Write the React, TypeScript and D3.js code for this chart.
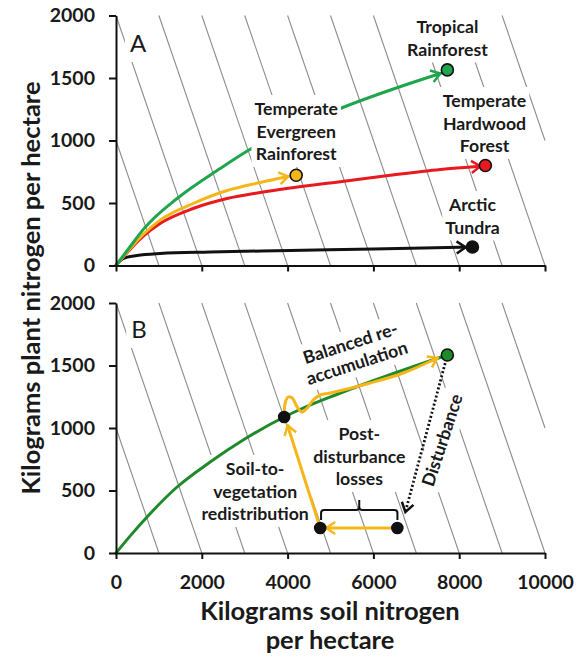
import React, { useEffect, useRef } from 'react';
import * as d3 from 'd3';

const W = 582;
const H = 662;
const FONT = 'Lato, "Open Sans", sans-serif';

// total nitrogen isolines (soil + plant), kg per hectare
const isoTotals = [1000, 2000, 3000, 4000, 5000, 6000, 7000, 8000, 9000, 10000, 11000];

const xTicks = [0, 2000, 4000, 6000, 8000, 10000];
const yTicks = [0, 500, 1000, 1500, 2000];

// panel A: soil N (x) vs plant N (y) trajectories
const tropicalSoil = [0, 327, 637, 1424, 2427, 3080, 5227, 6791, 7561];
const tropicalPlant = [0, 150, 289, 536, 776, 920, 1256, 1450, 1536];
const evergreenSoil = [0, 637, 1027, 1797, 2590, 3360, 4014];
const evergreenPlant = [0, 250, 363, 496, 600, 664, 712];
const hardwoodSoil = [0, 637, 1027, 1797, 2590, 3360, 4060, 5227, 6394, 7561, 8494];
const hardwoodPlant = [0, 236, 336, 456, 536, 584, 620, 670, 722, 768, 794];
const tundraSoil = [0, 163, 490, 1027, 2194, 4060, 6000, 8150];
const tundraPlant = [0, 56, 80, 96, 108, 120, 132, 146];

const siteNames = ['Tropical Rainforest', 'Temperate Evergreen Rainforest', 'Temperate Hardwood Forest', 'Arctic Tundra'];
const siteSoil = [7724, 4200, 8610, 8308];
const sitePlant = [1565, 722, 800, 148];

// panel B: disturbance and recovery
const recoverySoil = [0, 327, 723, 1424, 2194, 2964, 3920, 4364, 5157, 7724];
const recoveryPlant = [0, 135, 288, 528, 728, 904, 1088, 1160, 1270, 1584];
const matureSoil = 7724, maturePlant = 1584;
const disturbedSoil = 6558, disturbedPlant = 200;
const lossSoil = 4760, lossPlant = 200;
const redistSoil = 3920, redistPlant = 1088;
const reaccumSoil = [3921, 3944, 4014, 4108, 4224, 4341, 4458, 4598, 4761, 4995, 5928, 6698, 7492];
const reaccumPlant = [1088, 1200, 1248, 1240, 1168, 1128, 1160, 1224, 1264, 1280, 1360, 1440, 1560];
const disturbTipSoil = 6745, disturbTipPlant = 328;
const lossTipSoil = 4900;
const redistTipSoil = 4000, redistTipPlant = 1020;
const bracketSoil = [4780, 5670, 6560];
const bracketPlant = [264, 344, 424];

const C = {
  green: '#1fa54d',
  dkgreen: '#1e8a2a',
  yellow: '#f6b619',
  red: '#e8191f',
  black: '#111111',
  grid: '#8c8c8c',
  text: '#1a1a1a',
};

const zip = (a: number[], b: number[]) => a.map((v, i) => [v, b[i]] as [number, number]);

const App = () => {
  const ref = useRef<SVGSVGElement>(null);

  useEffect(() => {
    document.body.style.margin = '0';
    const svg = d3.select(ref.current);
    svg.selectAll('*').remove();

    const x = d3.scaleLinear().domain([0, 10000]).range([116, 545]);
    const yA = d3.scaleLinear().domain([0, 2000]).range([265.5, 15.5]);
    const yB = d3.scaleLinear().domain([0, 2000]).range([553, 303]);

    const defs = svg.append('defs');
    Object.entries(C).forEach(([k, c]) => {
      defs.append('marker')
        .attr('id', 'arr-' + k)
        .attr('viewBox', '-12 -8 16 16')
        .attr('refX', 0).attr('refY', 0)
        .attr('markerWidth', 16).attr('markerHeight', 16)
        .attr('markerUnits', 'userSpaceOnUse')
        .attr('orient', 'auto')
        .append('path')
        .attr('d', 'M-9,-6L0,0L-9,6')
        .attr('fill', 'none')
        .attr('stroke', c)
        .attr('stroke-width', 2.5);
    });

    const gridLayer = svg.append('g');
    const labelLayer = svg.append('g');
    const curveLayer = svg.append('g');
    const topLayer = svg.append('g');

    const drawFrame = (y: d3.ScaleLinear<number, number>, withLabels: boolean) => {
      const g = gridLayer.append('g');
      isoTotals.forEach(c => {
        const p0 = c <= 2000 ? [0, c] : [c - 2000, 2000];
        const p1 = c <= 10000 ? [c, 0] : [10000, c - 10000];
        g.append('line')
          .attr('x1', x(p0[0])).attr('y1', y(p0[1]))
          .attr('x2', x(p1[0])).attr('y2', y(p1[1]))
          .attr('stroke', C.grid).attr('stroke-width', 1.1);
      });
      const ay = topLayer.append('g')
        .attr('transform', `translate(${x(0)},0)`)
        .call(d3.axisLeft(y).tickValues(yTicks).tickSize(7).tickSizeOuter(0).tickPadding(14)
          .tickFormat(d3.format('d')));
      const ax = topLayer.append('g')
        .attr('transform', `translate(0,${y(0)})`)
        .call(d3.axisBottom(x).tickValues(xTicks).tickSize(6).tickSizeOuter(0).tickPadding(16)
          .tickFormat(withLabels ? d3.format('d') : () => ''));
      [ay, ax].forEach(a => {
        a.attr('font-family', FONT).attr('font-size', 19.5).attr('font-weight', 700);
        a.select('.domain').attr('stroke', C.black).attr('stroke-width', 2);
        a.selectAll('.tick line').attr('stroke', C.black).attr('stroke-width', 2);
        a.selectAll('.tick text').attr('fill', C.text);
      });
    };

    const label = (layer: any, lines: string[], px: number, py: number,
      opt: { size?: number; weight?: number; rot?: number; lh?: number; pad?: number } = {}) => {
      const { size = 17.7, weight = 700, rot = 0, lh = 22.5, pad = 3 } = opt;
      const g = layer.append('g').attr('transform', `translate(${px},${py}) rotate(${rot})`);
      const t = g.append('g');
      lines.forEach((s, i) => {
        t.append('text')
          .attr('x', 0).attr('y', i * lh)
          .attr('text-anchor', 'middle')
          .attr('font-family', FONT)
          .attr('font-size', size)
          .attr('font-weight', weight)
          .attr('fill', C.text)
          .text(s);
      });
      const bb = (t.node() as SVGGElement).getBBox();
      g.insert('rect', ':first-child')
        .attr('x', bb.x - pad).attr('y', bb.y - pad)
        .attr('width', bb.width + 2 * pad).attr('height', bb.height + 2 * pad)
        .attr('fill', '#fff');
    };

    const path = (y: d3.ScaleLinear<number, number>, pts: [number, number][], color: string,
      key: string | null, curve: d3.CurveFactory, extra?: (p: any) => void) => {
      const gen = d3.line<[number, number]>().x(d => x(d[0])).y(d => y(d[1])).curve(curve);
      const p = curveLayer.append('path')
        .attr('d', gen(pts))
        .attr('fill', 'none')
        .attr('stroke', color)
        .attr('stroke-width', 3)
        .attr('stroke-linecap', 'round');
      if (key) p.attr('marker-end', `url(#arr-${key})`);
      if (extra) extra(p);
    };

    const dot = (cx: number, cy: number, fill: string, r = 6) => {
      topLayer.append('circle').attr('cx', cx).attr('cy', cy).attr('r', r)
        .attr('fill', fill).attr('stroke', C.black).attr('stroke-width', 1.6);
    };

    const mono = d3.curveMonotoneX;

    // ---------- panel A ----------
    drawFrame(yA, false);
    path(yA, zip(tundraSoil, tundraPlant), C.black, 'black', mono);
    path(yA, zip(hardwoodSoil, hardwoodPlant), C.red, 'red', mono);
    path(yA, zip(evergreenSoil, evergreenPlant), C.yellow, 'yellow', mono);
    path(yA, zip(tropicalSoil, tropicalPlant), C.green, 'green', mono);

    label(labelLayer, ['A'], x(513), yA(1708), { size: 24, weight: 400, pad: 5 });
    label(labelLayer, ['Tropical', 'Rainforest'], x(7725), yA(1860));
    // this label sits over the tropical trajectory, hiding part of it
    label(topLayer, ['Temperate', 'Evergreen', 'Rainforest'], x(4201), yA(1204));
    label(labelLayer, ['Temperate', 'Hardwood', 'Forest'], x(8590), yA(1268));
    label(labelLayer, ['Arctic', 'Tundra'], x(8309), yA(436));

    const siteFill = [C.green, C.yellow, C.red, C.black];
    siteNames.forEach((_, i) => dot(x(siteSoil[i]), yA(sitePlant[i]), siteFill[i]));

    // ---------- panel B ----------
    drawFrame(yB, true);
    path(yB, zip(recoverySoil, recoveryPlant), C.dkgreen, null, mono);
    path(yB, zip(reaccumSoil, reaccumPlant), C.yellow, 'yellow', d3.curveCatmullRom.alpha(0.5));
    path(yB, [[disturbedSoil, disturbedPlant], [lossTipSoil, lossPlant]], C.yellow, 'yellow', d3.curveLinear);
    path(yB, [[lossSoil, lossPlant], [redistTipSoil, redistTipPlant]], C.yellow, 'yellow', d3.curveLinear);
    path(yB, [[matureSoil, maturePlant], [disturbTipSoil, disturbTipPlant]], C.black, 'black', d3.curveLinear,
      p => p.attr('stroke-dasharray', '2 2.2').attr('stroke-linecap', 'butt').attr('stroke-width', 2.8));

    // brace over post-disturbance losses
    const bx0 = x(bracketSoil[0]), bxm = x(bracketSoil[1]), bx1 = x(bracketSoil[2]);
    const by0 = yB(bracketPlant[0]), bym = yB(bracketPlant[1]), byt = yB(bracketPlant[2]);
    const r = 3;
    const bp = d3.path();
    bp.moveTo(bx0, by0);
    bp.lineTo(bx0, bym + r);
    bp.quadraticCurveTo(bx0, bym, bx0 + r, bym);
    bp.lineTo(bxm - r, bym);
    bp.quadraticCurveTo(bxm, bym, bxm, bym - r);
    bp.lineTo(bxm, byt);
    bp.moveTo(bxm, bym - r);
    bp.quadraticCurveTo(bxm, bym, bxm + r, bym);
    bp.lineTo(bx1 - r, bym);
    bp.quadraticCurveTo(bx1, bym, bx1, bym + r);
    bp.lineTo(bx1, by0);
    curveLayer.append('path').attr('d', bp.toString()).attr('fill', 'none')
      .attr('stroke', C.black).attr('stroke-width', 2);

    label(labelLayer, ['B'], x(537), yB(1720), { size: 24, weight: 400, pad: 5 });
    label(labelLayer, ['Balanced re-', 'accumulation'], x(5508), yB(1632), { rot: -18, lh: 21 });
    label(labelLayer, ['Disturbance'], x(7742), yB(888), { rot: -72 });
    label(labelLayer, ['Post-', 'disturbance', 'losses'], x(5672), yB(904));
    label(labelLayer, ['Soil-to-', 'vegetation', 'redistribution'], x(3244), yB(624));

    dot(x(matureSoil), yB(maturePlant), C.dkgreen);
    dot(x(redistSoil), yB(redistPlant), C.black, 5.5);
    dot(x(lossSoil), yB(lossPlant), C.black, 5.5);
    dot(x(disturbedSoil), yB(disturbedPlant), C.black, 5.5);

    // axis titles
    topLayer.append('text')
      .attr('transform', `translate(40,288) rotate(-90)`)
      .attr('text-anchor', 'middle')
      .attr('font-family', FONT).attr('font-size', 25.5).attr('font-weight', 700)
      .attr('fill', C.text)
      .text('Kilograms plant nitrogen per hectare');
    ['Kilograms soil nitrogen', 'per hectare'].forEach((s, i) => {
      topLayer.append('text')
        .attr('x', 330).attr('y', 620 + i * 29)
        .attr('text-anchor', 'middle')
        .attr('font-family', FONT).attr('font-size', 25.5).attr('font-weight', 700)
        .attr('fill', C.text)
        .text(s);
    });
  }, []);

  return <svg ref={ref} width={W} height={H} style={{ display: 'block', background: '#fff' }} />;
};

export default App;
